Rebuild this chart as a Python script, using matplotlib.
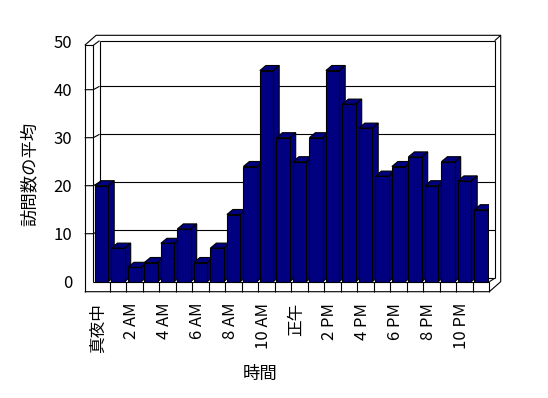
import matplotlib
matplotlib.use("Agg")
from matplotlib import pyplot as plt
from matplotlib.patches import Polygon
from matplotlib.transforms import ScaledTranslation

plt.rcParams['font.family'] = ['Noto Sans CJK JP', 'DejaVu Sans']

# average visits per hour (0..23)
hours = list(range(24))
visits = [20, 7, 3, 4, 8, 11, 4, 7, 14, 24, 44, 30,
          25, 30, 44, 37, 32, 22, 24, 26, 20, 25, 21, 15]
tick_hours = list(range(0, 24, 2))
tick_labels = ['真夜中', '2 AM', '4 AM', '6 AM', '8 AM', '10 AM',
               '正午', '2 PM', '4 PM', '6 PM', '8 PM', '10 PM']
y_ticks = [0, 10, 20, 30, 40, 50]

BAR_COLOR = '#000080'
LW = 0.8

W, H = 548, 398
# plot plane in pixels: left edge, floor line, width, height
PL, PB, PW, PH = 93.3, 281.7, 396.0, 240.0
XL, XR, YMAX = -0.5, 23.5, 50

fig = plt.figure(figsize=(W / 100, H / 100), dpi=100)
ax = fig.add_axes([PL / W, (H - PB) / H, PW / W, PH / H])
ax.set_xlim(XL, XR)
ax.set_ylim(0, YMAX)
ax.patch.set_visible(False)
for s in ax.spines.values():
    s.set_visible(False)

sx = PW / (XR - XL)   # px per category
sy = PH / YMAX        # px per value unit


def at(px_x, px_y):
    """pixel offset from the plot origin -> data coords"""
    return XL + px_x / sx, px_y / sy


def seg(*pts, z=1):
    xs, ys = zip(*[at(*p) for p in pts])
    ax.plot(xs, ys, color='black', lw=LW, clip_on=False, zorder=z,
            solid_capstyle='butt')


# walls and floor
WALL, FLOOR = 8.6, 10.0
BACK_X, BACK_Y = 6.2, 3.4
RIGHT = PW
TOP_F, TOP_B, TOP_O = 236.4, 241.0, 246.4
OUT_R = RIGHT + 11.4

# back wall inner face and gridlines
seg((BACK_X, TOP_B), (RIGHT + 5.4, TOP_B))
seg((RIGHT + 5.4, TOP_B), (RIGHT + 5.4, BACK_Y))
seg((BACK_X, TOP_B), (BACK_X, BACK_Y))
seg((BACK_X, BACK_Y), (RIGHT + 5.4, BACK_Y))
for v in y_ticks[1:-1]:
    seg((-WALL, v * sy), (0, v * sy), (BACK_X, BACK_Y + v * sy))
    seg((BACK_X, BACK_Y + v * sy), (RIGHT + 5.4, BACK_Y + v * sy))

# outer box
seg((-WALL, -FLOOR), (-WALL, TOP_F), (0, TOP_F), (0, 0), z=50)
seg((-WALL, TOP_F), (2.8, TOP_O), (OUT_R, TOP_O), (OUT_R, 0),
    (RIGHT, -FLOOR), (-WALL, -FLOOR), z=50)
seg((0, TOP_F), (BACK_X, TOP_B))
seg((RIGHT + 5.4, TOP_B), (OUT_R, TOP_O))
seg((0, 0), (RIGHT, 0), (RIGHT, -FLOOR), z=50)
seg((RIGHT, 0), (RIGHT + 5.4, BACK_Y), z=50)
for k in range(1, len(hours)):
    seg((k * sx, 0), (k * sx, -FLOOR), z=50)

# 3d bars
bw = 13.3 / sx
ddx, ddy = 6.0 / sx, 5.0 / sy
bars = ax.bar(hours, visits, width=bw, color=BAR_COLOR, edgecolor='black',
              linewidth=LW)
for i, (h, v) in enumerate(zip(hours, visits)):
    z = 3 + i * 0.01
    l, r = h - bw / 2, h + bw / 2
    side = Polygon([(r, 0), (r + ddx, ddy), (r + ddx, v + ddy), (r, v)],
                   closed=True, facecolor=BAR_COLOR, edgecolor='black',
                   linewidth=LW, zorder=z)
    top = Polygon([(l, v), (r, v), (r + ddx, v + ddy), (l + ddx, v + ddy)],
                  closed=True, facecolor=BAR_COLOR, edgecolor='black',
                  linewidth=LW, zorder=z)
    ax.add_patch(side)
    ax.add_patch(top)
    bars[i].set_zorder(z + 0.005)

ax.set_yticks(y_ticks)
ax.set_yticklabels([str(t) for t in y_ticks], fontsize=12)
ax.set_xticks(tick_hours)
ax.set_xticklabels(tick_labels, rotation=90, fontsize=12)
ax.tick_params(axis='both', length=0, pad=15.3)
shift = ScaledTranslation(-3 / 100, 0, fig.dpi_scale_trans)
for lab in ax.get_xticklabels():
    lab.set_transform(lab.get_transform() + shift)

fig.text(30 / W, 1 - 174 / H, '訪問数の平均', rotation=90,
         ha='center', va='center', fontsize=12.5)
fig.text(260 / W, 1 - 374 / H, '時間', ha='center', va='center',
         fontsize=12.5)

fig.savefig('out.png', dpi=100)
